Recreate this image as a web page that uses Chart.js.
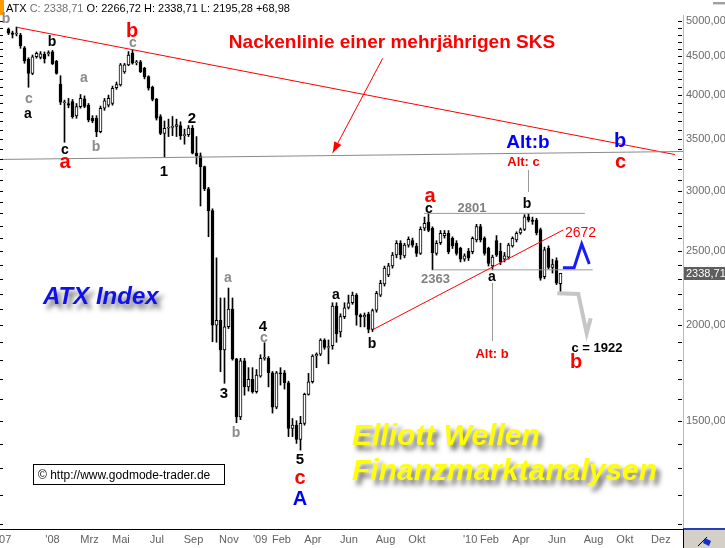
<!DOCTYPE html>
<html>
<head>
<meta charset="utf-8">
<script src="https://cdn.jsdelivr.net/npm/chart.js@4.4.1/dist/chart.umd.min.js"></script>
<style>
html,body{margin:0;padding:0;background:#fff;overflow:hidden}
canvas{display:block}
</style>
</head>
<body>
<canvas id="c" width="725" height="548"></canvas>
<script>
// ---- weekly ATX candles (week index 0 = mid Oct 2007) ----
const opens = [4880,4825,4810,4793,4613,4455,4271,4490,4480,4523,4530,4558,4432,4136,3910,3900,3921,3756,3863,3955,
3882,3730,3730,3583,3844,3880,3902,4090,4124,4288,4380,4536,4410,4420,4336,4228,4095,3948,3748,3565,
3620,3630,3640,3650,3540,3550,3620,3360,3330,3224,3017,2824,2000,2030,1856,1991,2100,1807,1517,1797,
1661,1699,1637,1715,1810,1810,1733,1562,1733,1733,1682,1466,1480,1418,1488,1624,1687,1823,1833,1913,
1870,1880,2119,1960,2052,2110,2140,2190,2062,2050,2068,1975,2093,2190,2265,2327,2391,2471,2560,2465,
2546,2580,2539,2483,2678,2728,2678,2483,2564,2620,2638,2598,2560,2521,2440,2500,2496,2585,2691,2599,
2522,2391,2580,2500,2440,2455,2540,2585,2640,2668,2773,2745,2745,2668,2315,2522,2380,2430,2266.72];
const highs = [4895,4850,4910,4817,4630,4476,4513,4555,4560,4555,4570,4575,4440,4240,3940,3960,3948,3900,4007,3990,
3900,3760,3760,3870,3960,4000,4110,4160,4400,4400,4560,4584,4440,4440,4350,4240,4110,3960,3770,3700,
3720,3750,3720,3690,3610,3650,3650,3530,3360,3230,3030,2840,2450,2171,2171,2237,2171,1810,1810,1810,
1760,1760,1750,1830,1897,1820,1740,1740,1760,1745,1690,1510,1500,1520,1630,1730,1830,1840,1920,1920,
1913,2140,2140,2070,2140,2190,2210,2200,2070,2075,2080,2100,2215,2290,2390,2410,2490,2580,2580,2560,
2610,2600,2560,2690,2770,2801,2690,2580,2660,2660,2660,2610,2580,2530,2480,2520,2610,2710,2710,2610,
2530,2470,2620,2560,2490,2560,2610,2650,2680,2790,2801,2770,2760,2680,2530,2540,2440,2450,2338.71];
const lows = [4800,4750,4780,4605,4402,4095,4254,4470,4460,4405,4500,4385,4260,3887,3470,3850,3730,3730,3845,3850,
3690,3680,3529,3570,3820,3860,3880,4070,4110,4270,4370,4390,4380,4280,4200,4060,3930,3710,3550,3322,
3530,3540,3530,3500,3450,3530,3350,3250,2864,3000,2611,1903,1900,1739,1679,1980,1800,1491,1505,1620,
1640,1630,1630,1710,1800,1661,1535,1555,1670,1650,1430,1430,1401,1373,1480,1620,1680,1760,1825,1860,
1780,1860,1900,1930,2040,2100,2130,2000,1990,1990,1955,1962,2080,2180,2250,2315,2375,2450,2440,2450,
2530,2530,2460,2475,2660,2650,2363,2470,2550,2600,2480,2520,2470,2420,2425,2430,2480,2570,2570,2470,
2390,2363,2460,2400,2420,2440,2530,2570,2630,2660,2730,2710,2625,2290,2300,2370,2340,2260,2195.28];
const closes = [4820,4800,4820,4641,4432,4271,4490,4536,4530,4459,4545,4393,4271,3914,3920,3880,3748,3863,3961,3866,
3711,3700,3583,3844,3930,3960,4083,4130,4380,4380,4513,4402,4420,4292,4228,4083,3948,3730,3565,3619,
3630,3640,3660,3536,3550,3622,3357,3330,3224,3017,2824,2001,2030,1856,1991,2100,1807,1517,1797,1661,
1699,1637,1721,1810,1815,1733,1562,1733,1728,1682,1466,1480,1418,1488,1624,1687,1823,1833,1913,1870,
1875,2119,1950,2052,2107,2140,2190,2062,2050,2062,1975,2090,2202,2269,2375,2391,2471,2560,2471,2546,
2590,2546,2483,2670,2718,2661,2488,2560,2638,2638,2496,2539,2483,2441,2465,2450,2599,2691,2585,2483,
2410,2455,2470,2420,2465,2546,2598,2638,2668,2773,2745,2735,2640,2304,2510,2380,2400,2270,2338.71];

// ---- axis ticks ----
const tickWeeks  = [-1.1, 11.0, 20.25, 28.1, 37.1, 46.25, 55.1, 62.9, 68.25, 76.1, 85.1, 94.25, 102.1, 115.4, 120.25, 128.1, 137.1, 146.25, 154.1, 163.1];
const tickLabels = ["'07","'08","Mrz","Mai","Jul","Sep","Nov","'09","Feb","Apr","Jun","Aug","Okt","'10","Feb","Apr","Jun","Aug","Okt","Dez"];
const priceTicks = [1500, 2000, 2500, 3000, 3500, 4000, 4500, 5000];
const lastClose = 2338.71;

// ---- drawn lines (week index / index value) ----
const necklineX = [-2.125, 168.625], necklineY = [3295, 3375];
const resistX = [2.05, 166.6],       resistY = [4906, 3344];
const supportX = [91.05, 138.7],     supportY = [1973, 2665];
const lvl2801X = [103.9, 144.1],     lvl2801Y = [2801, 2801];
const lvl2363X = [106.05, 146.05],   lvl2363Y = [2363, 2363];
const vAltCX = [130, 130],           vAltCY = [3192, 2988];
const vAltBX = [121, 121],           vAltBY = [2271, 1907];
const bluePathX = [138.6, 141.4, 143.3, 145.2], bluePathY = [2378, 2378, 2554, 2405];
const greyPathX = [137.2, 142.45, 144.55, 145.55], greyPathY = [2202, 2197, 1952, 2042];
const arrowX = [93.55, 81.05],       arrowY = [4468, 3362];

const pts = (xs, ys) => xs.map((x, i) => ({x: x, y: ys[i]}));
const idx = opens.map((_, i) => i);
const wickData = idx.map(i => ({x: i, y: [lows[i], highs[i]]}));
const bodyData = idx.map(i => ({x: i, y: [opens[i], closes[i]]}));

const FONT = '"Liberation Sans", Arial, sans-serif';
const fmt = v => Number(v).toFixed(2).replace('.', ',');

function lineDs(label, data, color, width, order) {
  return {type: 'line', label: label, data: data, borderColor: color, borderWidth: width,
    pointRadius: 0, fill: false, tension: 0, order: order === undefined ? 0 : order};
}

const RED = '#ff0000', BLUE = '#0000ff', GREY = '#8c8c8c';

const decor = {
  id: 'decor',
  beforeDraw(chart) {
    const c = chart.ctx;
    c.save(); c.fillStyle = '#fff'; c.fillRect(0, 0, chart.width, chart.height); c.restore();
  },
  afterDraw(chart) {
    const c = chart.ctx;
    const ys = chart.scales.y;
    const ca = chart.chartArea;
    c.save();
    // small tick marks on both edges
    c.strokeStyle = '#000'; c.lineWidth = 1;
    for (let v = 1100; v <= 5000; v += 100) {
      const y = Math.round(ys.getPixelForValue(v)) + 0.5;
      c.beginPath(); c.moveTo(ca.right - 5, y); c.lineTo(ca.right - 1, y); c.stroke();
      c.beginPath(); c.moveTo(0, y); c.lineTo(3, y); c.stroke();
    }
    // last price marker on the axis
    const ly = ys.getPixelForValue(lastClose);
    c.fillStyle = '#5e5e5e'; c.fillRect(ca.right + 1, Math.round(ly) - 6, chart.width - ca.right - 1, 13);
    c.font = '11px ' + FONT; c.fillStyle = '#fff'; c.textAlign = 'left'; c.textBaseline = 'middle';
    c.fillText(fmt(lastClose), ca.right + 3, ly + 0.5);
    // arrow head
    const ai = chart.data.datasets.findIndex(d => d.label === 'arrow');
    const ap = chart.getDatasetMeta(ai).data;
    if (ap.length > 1) {
      const p0 = ap[0], p1 = ap[1];
      const ang = Math.atan2(p1.y - p0.y, p1.x - p0.x);
      const L = 11, W = 4;
      c.fillStyle = RED;
      c.beginPath(); c.moveTo(p1.x, p1.y);
      c.lineTo(p1.x - L*Math.cos(ang) + W*Math.sin(ang), p1.y - L*Math.sin(ang) - W*Math.cos(ang));
      c.lineTo(p1.x - L*Math.cos(ang) - W*Math.sin(ang), p1.y - L*Math.sin(ang) + W*Math.cos(ang));
      c.closePath(); c.fill();
    }
    // header
    c.fillStyle = '#ff9900'; c.fillRect(0, 0, 4, 15);
    c.font = '11px ' + FONT; c.textBaseline = 'alphabetic'; c.textAlign = 'left';
    let hx = 6;
    const parts = [['ATX ', '#000'], ['C: 2338,71 ', '#707070'], ['O: 2266,72 H: 2338,71 L: 2195,28 +68,98', '#000']];
    parts.forEach(p => { c.fillStyle = p[1]; c.fillText(p[0], hx, 12); hx += c.measureText(p[0]).width; });
    c.fillStyle = '#a0a0a0'; c.fillRect(713, 2, 12, 2);
    c.fillStyle = '#d8d8d8'; c.fillRect(713, 4, 12, 1);
    // bottom-right box
    c.fillStyle = '#d4d0c8'; c.fillRect(ca.right, ca.bottom, chart.width - ca.right, chart.height - ca.bottom);
    c.fillStyle = '#2a3fb0'; c.fillRect(ca.right, ca.bottom - 1, chart.width - ca.right, 2);
    c.strokeStyle = '#000'; c.beginPath(); c.moveTo(ca.right + 0.5, ca.bottom); c.lineTo(ca.right + 0.5, chart.height); c.stroke();
    c.beginPath(); c.moveTo(698, 546); c.lineTo(707, 537); c.stroke();
    c.fillStyle = '#1030d0'; c.beginPath(); c.moveTo(705, 538); c.lineTo(711, 541); c.lineTo(709, 546); c.lineTo(703, 543); c.closePath(); c.fill();

    // wave labels
    const txt = (t, x, y, size, color, weight, align) => {
      c.font = (weight || 'bold') + ' ' + size + 'px ' + FONT;
      c.fillStyle = color; c.textAlign = align || 'center'; c.textBaseline = 'alphabetic';
      c.fillText(t, x, y);
    };
    txt('b', 6, 23, 14, GREY);
    txt('b', 52, 46, 14, '#000');
    txt('c', 29, 103, 14, GREY);
    txt('a', 28, 118, 14, '#000');
    txt('a', 84, 82, 14, GREY);
    txt('c', 65, 154, 14, '#000');
    txt('a', 65, 168, 20, RED);
    txt('b', 96, 151, 14, GREY);
    txt('b', 132, 37, 20, RED);
    txt('c', 133, 47, 14, GREY);
    txt('2', 192, 123, 15, '#000');
    txt('1', 164, 176, 15, '#000');
    txt('a', 228, 282, 14, GREY);
    txt('3', 224, 398, 15, '#000');
    txt('b', 236, 437, 14, GREY);
    txt('4', 263, 331, 15, '#000');
    txt('c', 264, 342, 14, GREY);
    txt('5', 300, 464, 15, '#000');
    txt('c', 300, 484, 20, RED);
    txt('A', 300, 505, 20, BLUE);
    txt('a', 336, 299, 14, '#000');
    txt('b', 372, 348, 14, '#000');
    txt('a', 430, 202, 20, RED);
    txt('c', 429, 213, 14, '#000');
    txt('2801', 472, 212, 13, '#808080');
    txt('2363', 435.5, 283, 13, '#808080');
    txt('a', 492, 281, 14, '#000');
    txt('Alt: b', 492, 358, 13, RED);
    txt('b', 527, 208, 14, '#000');
    txt('Alt: c', 523.5, 166, 13, RED);
    txt('Alt:b', 528, 148, 19, BLUE);
    txt('b', 620, 147, 20, BLUE);
    txt('c', 620.5, 168, 20, RED);
    txt('2672', 580.5, 237, 14, RED, 'normal');
    txt('c = 1922', 597, 352, 13, '#000');
    txt('b', 576, 368, 20, RED);
    txt('Nackenlinie einer mehrjährigen SKS', 392, 48, 19, RED);

    // shadowed titles
    const shadowTxt = (t, x, y, size, color) => {
      c.save();
      c.font = 'italic bold ' + size + 'px ' + FONT;
      c.textAlign = 'left'; c.textBaseline = 'alphabetic';
      c.shadowColor = 'rgba(70,70,70,0.8)'; c.shadowBlur = 5; c.shadowOffsetX = 4; c.shadowOffsetY = 5;
      c.fillStyle = color; c.fillText(t, x, y);
      c.restore();
    };
    shadowTxt('ATX Index', 43, 304, 24, '#1010ee');
    shadowTxt('Elliott Wellen', 352, 445, 30, '#ffff00');
    shadowTxt('Finanzmarktanalysen', 352, 480, 30, '#ffff00');

    // copyright box
    c.fillStyle = '#fff'; c.fillRect(33, 464, 191, 21);
    c.strokeStyle = '#000'; c.lineWidth = 1; c.strokeRect(33.5, 464.5, 191, 20);
    c.font = '12px ' + FONT; c.fillStyle = '#000'; c.textAlign = 'left';
    c.fillText('\u00A9 http://www.godmode-trader.de', 38, 479);
    c.restore();
  }
};

new Chart(document.getElementById('c'), {
  type: 'bar',
  data: {
    datasets: [
      {type: 'bar', label: 'wick', data: wickData, backgroundColor: '#000', barThickness: 1, grouped: false, order: 3, borderWidth: 0},
      {type: 'bar', label: 'body', data: bodyData, grouped: false, order: 2, barThickness: 3,
        backgroundColor: ctx => closes[ctx.dataIndex] >= opens[ctx.dataIndex] ? '#ffffff' : '#000000',
        borderColor: '#000', borderWidth: 1, borderSkipped: false},
      lineDs('neck', pts(necklineX, necklineY), '#8a8a8a', 1),
      lineDs('resist', pts(resistX, resistY), RED, 1),
      lineDs('support', pts(supportX, supportY), RED, 1),
      lineDs('l2801', pts(lvl2801X, lvl2801Y), '#9a9a9a', 1),
      lineDs('l2363', pts(lvl2363X, lvl2363Y), '#9a9a9a', 1),
      lineDs('vc', pts(vAltCX, vAltCY), '#9a9a9a', 1),
      lineDs('vb', pts(vAltBX, vAltBY), '#9a9a9a', 1),
      lineDs('greyPath', pts(greyPathX, greyPathY), '#c6c6c6', 4),
      lineDs('bluePath', pts(bluePathX, bluePathY), '#1a1aff', 3),
      lineDs('arrow', pts(arrowX, arrowY), RED, 1)
    ]
  },
  options: {
    responsive: false, animation: false, devicePixelRatio: 1,
    layout: {padding: {top: 15, left: 0, right: 0, bottom: 0}},
    plugins: {legend: {display: false}, tooltip: {enabled: false}},
    scales: {
      x: {
        type: 'linear', position: 'bottom', min: -2.125, max: 168.625, offset: false,
        grid: {display: false, drawTicks: false},
        border: {display: true, color: '#000', width: 1},
        ticks: {autoSkip: false, maxRotation: 0, minRotation: 0, padding: 4, color: '#606060',
          font: {family: FONT, size: 11}, callback: (v, i) => tickLabels[i]},
        afterBuildTicks: s => { s.ticks = tickWeeks.map(v => ({value: v})); },
        afterFit: s => { s.height = 19; s.paddingLeft = 0; s.paddingRight = 0; }
      },
      y: {
        type: 'logarithmic', position: 'right', min: 1082.6, max: 5091,
        grid: {display: false, drawTicks: false},
        border: {display: true, color: '#f5c000', width: 1},
        ticks: {padding: 3, font: {family: FONT, size: 11}, color: '#6a6a6a',
          callback: v => fmt(v)},
        afterBuildTicks: s => { s.ticks = priceTicks.map(v => ({value: v})); },
        afterFit: s => { s.width = 42; s.paddingTop = 0; s.paddingBottom = 0; }
      }
    }
  },
  plugins: [decor]
});
</script>
</body>
</html>
